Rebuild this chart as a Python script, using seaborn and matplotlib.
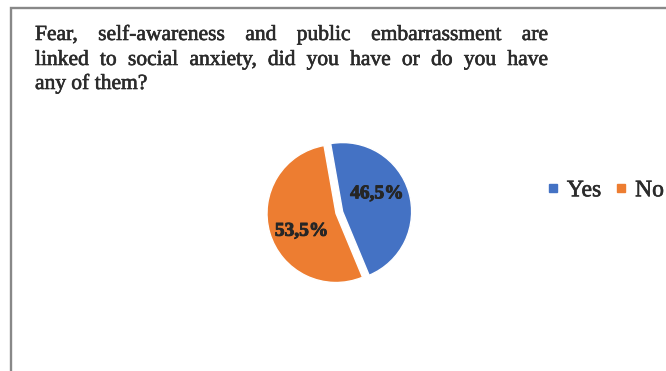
import matplotlib
matplotlib.use("Agg")
import numpy as np
import matplotlib.pyplot as plt
import matplotlib.patheffects as pe
from matplotlib.lines import Line2D
from matplotlib.patches import Rectangle
import seaborn as sns

# Survey answers
categories = ["Yes", "No"]
shares = [46.5, 53.5]
title_lines = [
    "Fear, self-awareness and public embarrassment are",
    "linked to social anxiety, did you have or do you have",
    "any of them?",
]

sns.set_theme(style="white")
plt.rcParams["font.family"] = ["Liberation Serif", "DejaVu Serif"]
colors = sns.color_palette(["#4472C4", "#ED7D31"])
ink = "#2b2b2b"
heavy = [pe.withStroke(linewidth=0.45, foreground=ink)]

W, H = 666, 371
fig = plt.figure(figsize=(W / 100, H / 100), dpi=100)
fig.patch.set_facecolor("white")


def fx(px):
    return px / W


def fy(py):
    return 1 - py / H


# Chart frame (left and top edges visible)
fig.patches.append(Rectangle((fx(11), fy(400)), fx(700), fy(8) - fy(400),
                             transform=fig.transFigure, fill=False,
                             edgecolor="#888888", linewidth=1.7))

# Pie axes: one data unit = 69 px, pie centred at (336, 213.5)
r_px = 69
span = 1.5
side = 2 * span * r_px
cx, cy = 336, 213.5
ax = fig.add_axes([fx(cx - side / 2), fy(cy + side / 2), side / W, side / H])

explode = [0.1, 0.0]
wedges, _, autotexts = ax.pie(
    shares,
    colors=colors,
    startangle=100,
    counterclock=False,
    explode=explode,
    autopct=lambda p: f"{p:.1f}%".replace(".", ","),
    pctdistance=0.56,
    wedgeprops=dict(edgecolor="white", linewidth=1.0),
    textprops=dict(fontsize=14, fontweight="bold", color="#262626"),
    frame=False,
)
# Percent labels sit a little counter-clockwise of each wedge's middle
for w, t in zip(wedges, autotexts):
    ang = np.deg2rad((w.theta1 + w.theta2) / 2 + 11)
    wx, wy = w.center
    t.set_position((wx + 0.56 * np.cos(ang), wy + 0.56 * np.sin(ang)))
    t.set_path_effects([pe.withStroke(linewidth=0.7, foreground="#262626")])
ax.set_xlim(-span, span)
ax.set_ylim(-span, span)
ax.set_aspect("equal")
ax.axis("off")

# Justified title block
fig.canvas.draw()
renderer = fig.canvas.get_renderer()
left, right = 35, 548
baselines = [40, 65, 89]
tsize = 15.5
for i, line in enumerate(title_lines):
    words = line.split(" ")
    justify = i < len(title_lines) - 1
    texts = [fig.text(0, fy(baselines[i]), w, fontsize=tsize, color=ink,
                      va="baseline", ha="left", path_effects=heavy)
             for w in words]
    widths = [t.get_window_extent(renderer).width for t in texts]
    if justify and len(words) > 1:
        gap = (right - left - sum(widths)) / (len(words) - 1)
    else:
        sp = fig.text(0, 0, "a a", fontsize=tsize)
        sp2 = fig.text(0, 0, "aa", fontsize=tsize)
        gap = sp.get_window_extent(renderer).width - sp2.get_window_extent(renderer).width
        sp.remove()
        sp2.remove()
    x = left
    for t, wdt in zip(texts, widths):
        t.set_x(fx(x))
        x += wdt + gap

# Legend
handles = [Line2D([], [], marker="s", linestyle="", markersize=5.8,
                  markerfacecolor=c, markeredgecolor=c) for c in colors]
leg = fig.legend(handles, categories, loc="center left",
                 bbox_to_anchor=(fx(547), fy(190.5)), ncol=2, frameon=False,
                 prop=dict(size=17), handlelength=0.5, handletextpad=0.34,
                 columnspacing=0.59, borderpad=0, borderaxespad=0)
for t in leg.get_texts():
    t.set_color(ink)
    t.set_path_effects(heavy)

fig.savefig("out.png", dpi=100, facecolor="white")
